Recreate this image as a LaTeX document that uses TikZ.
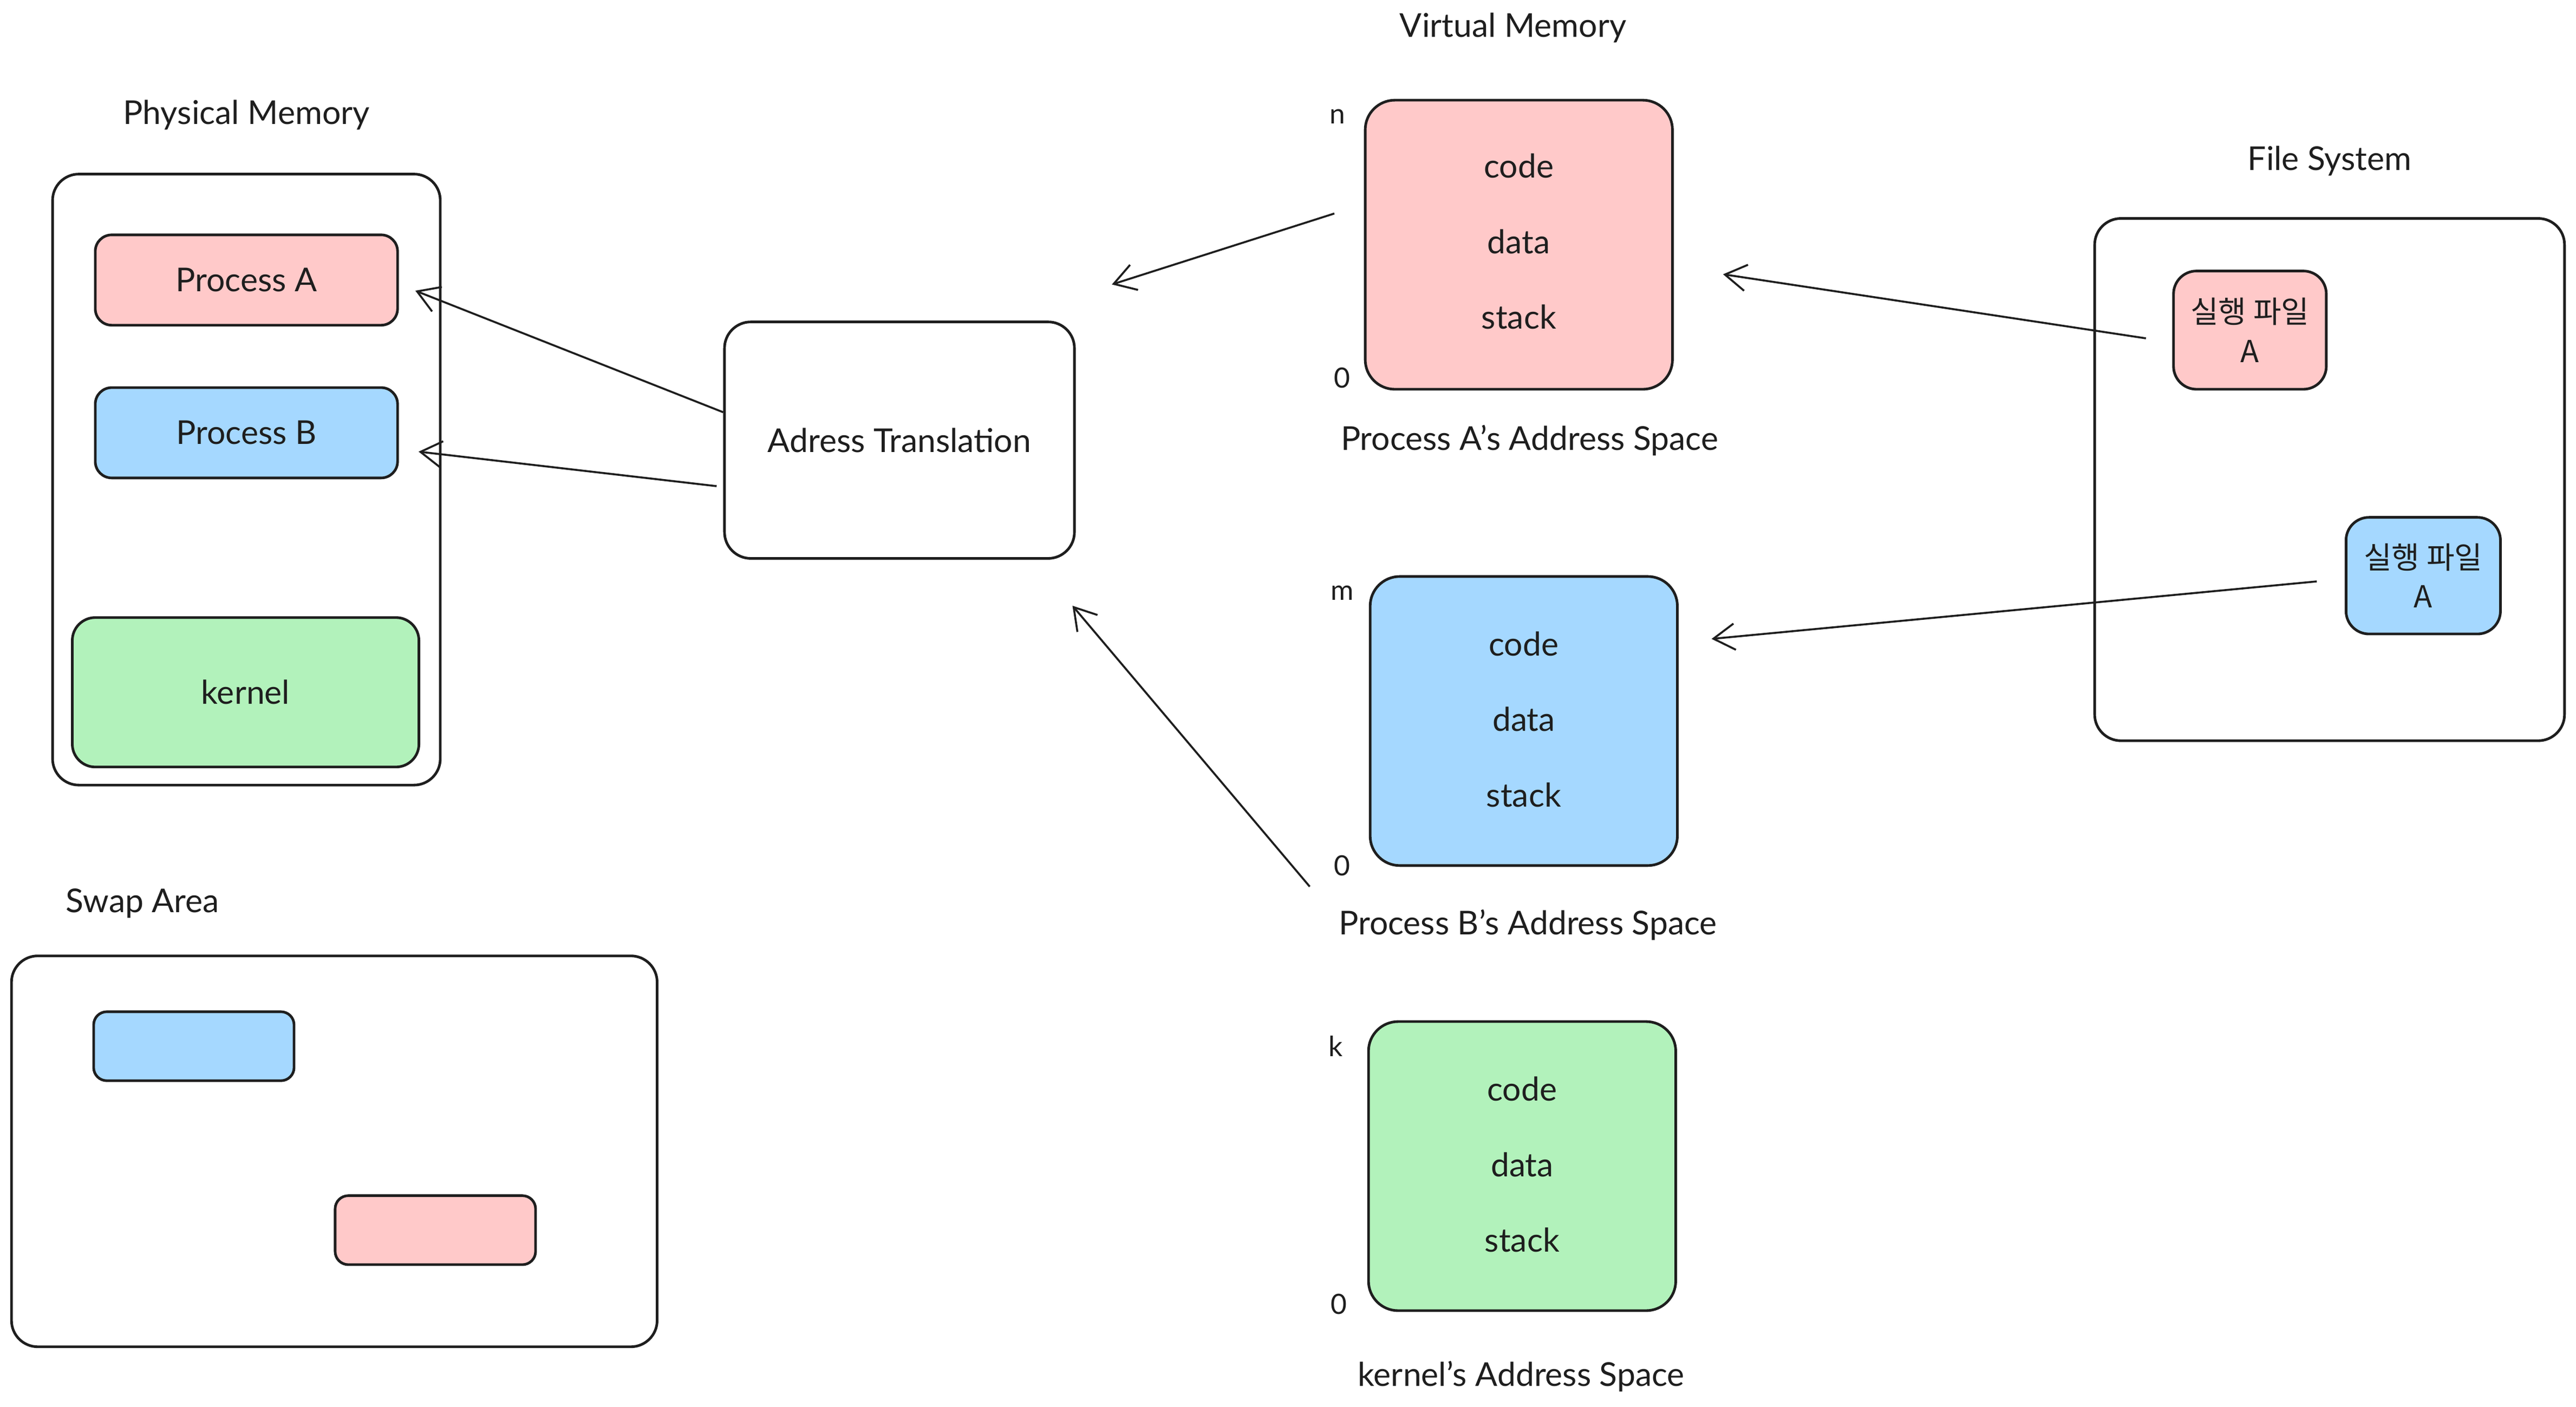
\documentclass[tikz,border=0pt]{standalone}
\usepackage{fontspec}
\setmainfont{Lato}
\newfontfamily\krfont{Noto Sans CJK KR}
\usetikzlibrary{arrows.meta}
\definecolor{ink}{HTML}{1E1E1E}
\definecolor{pinkfill}{HTML}{FFC9C9}
\definecolor{bluefill}{HTML}{A5D8FF}
\definecolor{greenfill}{HTML}{B2F2BB}
\tikzset{
  box/.style={draw=ink, line width=1.6pt, inner sep=0pt, rounded corners=#1},
  box/.default=16pt,
  txt/.style={text=ink, inner sep=0pt, font=\fontsize{20}{24}\selectfont},
  small/.style={text=ink, inner sep=0pt, font=\fontsize{17}{20}\selectfont},
  kr/.style={text=ink, inner sep=0pt, align=center, font=\krfont\fontsize{18.5}{24}\selectfont},
  arr/.style={draw=ink, line width=1.2pt, -{Straight Barb[length=13pt,width=16pt,line width=1.2pt]}},
}
\begin{document}
\begin{tikzpicture}[x=1pt,y=1pt]
\useasboundingbox (0,0) rectangle (1568,-856.6);
\fill[white] (0,0) rectangle (1568,-856.6);

% Physical memory
\node[txt] (tphys) at (150,-70) {Physical Memory};
\node[box, minimum width=236pt, minimum height=372pt] (phys) at (150,-292) {};
\node[box=10pt, fill=pinkfill, minimum width=184pt, minimum height=55pt, txt] (pa) at (150,-170.5) {Process A};
\node[box=10pt, fill=bluefill, minimum width=184pt, minimum height=55pt, txt] (pb) at (150,-263.5) {Process B};
\node[box=14pt, fill=greenfill, minimum width=211pt, minimum height=91pt, txt] (kern) at (149.5,-421.5) {kernel};

% Swap area
\node[txt, anchor=west] (tswap) at (40,-550) {Swap Area};
\node[box, minimum width=393pt, minimum height=238pt] (swap) at (203.5,-701) {};
\node[box=8pt, fill=bluefill, minimum width=122pt, minimum height=42pt] (swb) at (118,-637) {};
\node[box=8pt, fill=pinkfill, minimum width=122pt, minimum height=42pt] (swp) at (265,-749) {};

% Address translation
\node[box, minimum width=213pt, minimum height=144pt, txt] (at) at (547.5,-268) {Adress Translation};

% Virtual memory
\node[txt] (tvm) at (921,-17) {Virtual Memory};
\node[box=18pt, fill=pinkfill, minimum width=187pt, minimum height=176pt] (vma) at (924.5,-149) {};
\node[txt] (vmac) at (924.5,-101) {code};
\node[txt] (vmad) at (924.5,-147) {data};
\node[txt] (vmas) at (924.5,-193) {stack};
\node[small] (ln) at (814,-71) {n};
\node[small] (la0) at (817,-230) {0};
\node[txt] (tvma) at (931,-268) {Process A's Address Space};

\node[box=18pt, fill=bluefill, minimum width=187pt, minimum height=176pt] (vmb) at (927.5,-439) {};
\node[txt] (vmbc) at (927.5,-392) {code};
\node[txt] (vmbd) at (927.5,-438) {data};
\node[txt] (vmbs) at (927.5,-484) {stack};
\node[small] (lm) at (817,-361) {m};
\node[small] (lb0) at (817,-527) {0};
\node[txt] (tvmb) at (930,-563) {Process B's Address Space};

\node[box=18pt, fill=greenfill, minimum width=187pt, minimum height=176pt] (vmk) at (926.5,-710) {};
\node[txt] (vmkc) at (926.5,-663) {code};
\node[txt] (vmkd) at (926.5,-709) {data};
\node[txt] (vmks) at (926.5,-755) {stack};
\node[small] (lk) at (813,-637) {k};
\node[small] (lk0) at (815,-794) {0};
\node[txt] (tvmk) at (926,-838) {kernel's Address Space};

% File system
\node[txt] (tfs) at (1418,-98) {File System};
\node[box, minimum width=286pt, minimum height=318pt] (fs) at (1418,-292) {};
\node[box=14pt, fill=pinkfill, minimum width=93pt, minimum height=72pt, kr] (fsa) at (1369.5,-201) {실행 파일\\A};
\node[box=14pt, fill=bluefill, minimum width=94pt, minimum height=71pt, kr] (fsb) at (1475,-350.5) {실행 파일\\A};

% Connectors
\draw[arr] ([yshift=17pt]at.west) -- ([xshift=10pt,yshift=-6.5pt]pa.east);
\draw[arr] ([xshift=-4pt,yshift=-28pt]at.west) -- ([xshift=12pt,yshift=-11.5pt]pb.east);
\draw[arr] ([xshift=-18pt,yshift=19pt]vma.west) -- ([xshift=22pt,yshift=22pt]at.north east);
\draw[arr] ([xshift=-36pt,yshift=-12pt]vmb.south west) -- ([xshift=-2pt,yshift=-28pt]at.south east);
\draw[arr] ([xshift=-16pt,yshift=-5pt]fsa.west) -- ([xshift=30pt,yshift=-18pt]vma.east);
\draw[arr] ([xshift=-17pt,yshift=-3.5pt]fsb.west) -- ([xshift=20pt,yshift=50pt]vmb.east);
\end{tikzpicture}
\end{document}
